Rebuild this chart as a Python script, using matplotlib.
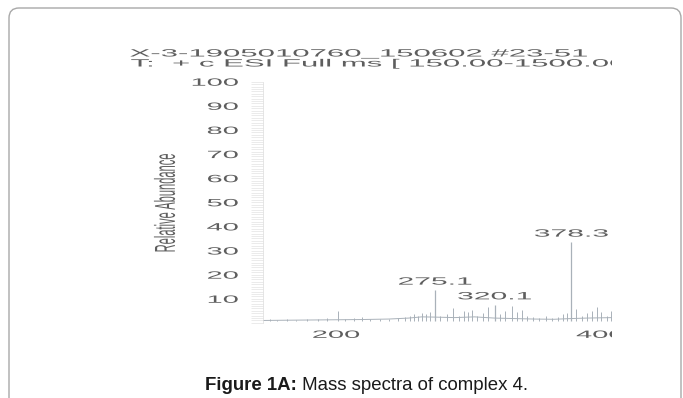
import matplotlib
matplotlib.use("Agg")
import matplotlib.pyplot as plt
from matplotlib.patheffects import AbstractPathEffect
from matplotlib.transforms import Affine2D, Bbox, TransformedBbox, IdentityTransform
from matplotlib.patches import FancyBboxPatch
from matplotlib.text import Annotation
from matplotlib.ticker import MultipleLocator

plt.rcParams["font.family"] = ["Liberation Sans", "DejaVu Sans"]

# ---- data ---------------------------------------------------------------
title_lines = ["X-3-1905010760_150602 #23-51",
               "T:  + c ESI Full ms [ 150.00-1500.00]"]
caption_bold = "Figure 1A:"
caption_text = "Mass spectra of complex 4."
y_label = "Relative Abundance"

ytick_vals = [10, 20, 30, 40, 50, 60, 70, 80, 90, 100]
xtick_vals = [200, 400]

# labelled ions (m/z, relative abundance)
peak_mz = [275.1, 320.1, 378.3]
peak_int = [13.6, 7.5, 33.5]

# minor ions
minor_mz = [150, 155, 163, 170, 178, 186, 193, 201.7, 207, 214, 220, 226,
            233, 240, 247, 252, 256, 259, 262, 265, 268, 271, 279, 284, 289,
            293, 297, 300, 303, 307, 311, 315, 324, 328, 333, 337, 341, 345,
            349, 354, 359, 364, 368, 372, 375, 382, 386, 390, 394, 398, 401,
            405, 408]
minor_int = [1.5, 1.2, 1.5, 1.3, 1.8, 1.5, 2.0, 4.8, 1.6, 2.0, 2.6, 1.5,
             1.8, 1.5, 2.0, 2.5, 3.0, 3.5, 2.8, 4.0, 3.5, 4.5, 3.0, 3.5, 6.0,
             3.0, 5.0, 4.5, 5.5, 3.0, 4.0, 6.5, 3.5, 5.0, 7.0, 4.5, 5.5, 3.0,
             2.5, 2.0, 3.0, 2.0, 2.5, 3.5, 4.0, 5.7, 3.0, 4.0, 5.0, 6.5, 4.5,
             3.0, 5.0]

# baseline trace
base_mz = [144, 160, 180, 200, 220, 240, 255, 265, 275, 290, 305, 320,
           335, 350, 365, 378, 390, 410]
base_int = [1.0, 1.1, 1.2, 1.3, 1.4, 1.6, 2.0, 2.5, 2.4, 2.2, 2.5, 2.0,
            1.8, 1.6, 1.5, 1.8, 2.0, 2.2]


class HStretch(AbstractPathEffect):
    """Draw a text path widened horizontally about a pivot."""

    def __init__(self, sx, anchor="left"):
        super().__init__()
        self.sx = sx
        self.anchor = anchor

    def draw_path(self, renderer, gc, tpath, affine, rgbFace=None):
        ext = tpath.get_extents(affine)
        px = {"left": ext.x0, "right": ext.x1,
              "center": 0.5 * (ext.x0 + ext.x1)}[self.anchor]
        t = affine + Affine2D().translate(-px, 0).scale(self.sx, 1).translate(px, 0)
        renderer.draw_path(gc, tpath, t, rgbFace)


W, H = 683, 398
fig = plt.figure(figsize=(W / 100, H / 100), dpi=100)


def fx(px):
    return px / W


def fy(py):
    return 1 - py / H


text_col = "#5e5e5e"
line_col = "#a9b1b9"

# page frame, kept behind everything else
frame = FancyBboxPatch((9, -30), 672, 420, boxstyle="round,pad=0,rounding_size=10",
                       transform=IdentityTransform(), facecolor="none",
                       edgecolor="#a8a8a8", linewidth=1.0, zorder=-10)
fig.add_artist(frame)

clip_right = TransformedBbox(Bbox([[0, 0], [fx(612), 1]]), fig.transFigure)

# ---- spectrum axes --------------------------------------------------------
ax = fig.add_axes([fx(263), fy(322.9), fx(612) - fx(263), (322.9 - 81.7) / H])
ax.set_xlim(144.7, 409.1)
ax.set_ylim(0, 100)
ax.patch.set_alpha(0)
for name, sp in ax.spines.items():
    sp.set_visible(name == "left")
ax.spines["left"].set_color("#dcdcdc")
ax.spines["left"].set_linewidth(0.5)

ax.plot(base_mz, base_int, color=line_col, lw=0.7)
ax.vlines(minor_mz, 0.8, minor_int, color=line_col, lw=0.7)
ax.vlines(peak_mz, 0.8, peak_int, color=line_col, lw=0.9)

for mz, h in zip(peak_mz, peak_int):
    ax.annotate(f"{mz:.1f}", xy=(mz, h), xytext=(0, 2.5), textcoords="offset points",
                ha="center", va="bottom", fontsize=7.6, color=text_col,
                path_effects=[HStretch(2.85, "center")])

ax.set_yticks(ytick_vals)
ax.yaxis.set_minor_locator(MultipleLocator(1))
ax.tick_params(axis="y", which="both", direction="out", length=8.6, width=0.45,
               color="#e0e0e0", pad=9.4, labelsize=7.6, labelcolor=text_col)
for lab in ax.get_yticklabels():
    lab.set_path_effects([HStretch(2.75, "right")])

ax.set_xticks(xtick_vals)
ax.tick_params(axis="x", length=0, pad=5, labelsize=7.6, labelcolor=text_col)
for lab in ax.get_xticklabels():
    lab.set_path_effects([HStretch(2.75, "center")])
    lab.set_clip_box(clip_right)
    lab.set_clip_on(True)

ax.set_ylabel(y_label, fontsize=8, color=text_col, va="center",
              family=["Liberation Sans Narrow", "Liberation Sans"],
              path_effects=[HStretch(2.6, "center")])
ax.yaxis.set_label_coords((165.5 - 263) / (612 - 263), (322.9 - 202.5) / (322.9 - 81.7))

# ---- header lines ---------------------------------------------------------
fig.text(fx(130), fy(56.5), title_lines[0], ha="left", va="baseline",
         fontsize=7.6, color=text_col, path_effects=[HStretch(2.95, "left")])
t2 = fig.text(fx(131), fy(66.5), title_lines[1], ha="left", va="baseline",
              fontsize=7.6, color=text_col, path_effects=[HStretch(2.95, "left")])
t2.set_clip_box(clip_right)
t2.set_clip_on(True)

# ---- caption --------------------------------------------------------------
cap = fig.text(fx(205), fy(390), caption_bold, ha="left", va="baseline",
               fontsize=13.4, fontweight="bold", color="#1a1a1a")
fig.add_artist(Annotation(
    " " + caption_text, xy=(1, 0), xycoords=cap, xytext=(0, 0),
    textcoords="offset points", ha="left", va="bottom",
    fontsize=13.4, color="#1a1a1a", annotation_clip=False))

fig.savefig("out.png", dpi=100)
